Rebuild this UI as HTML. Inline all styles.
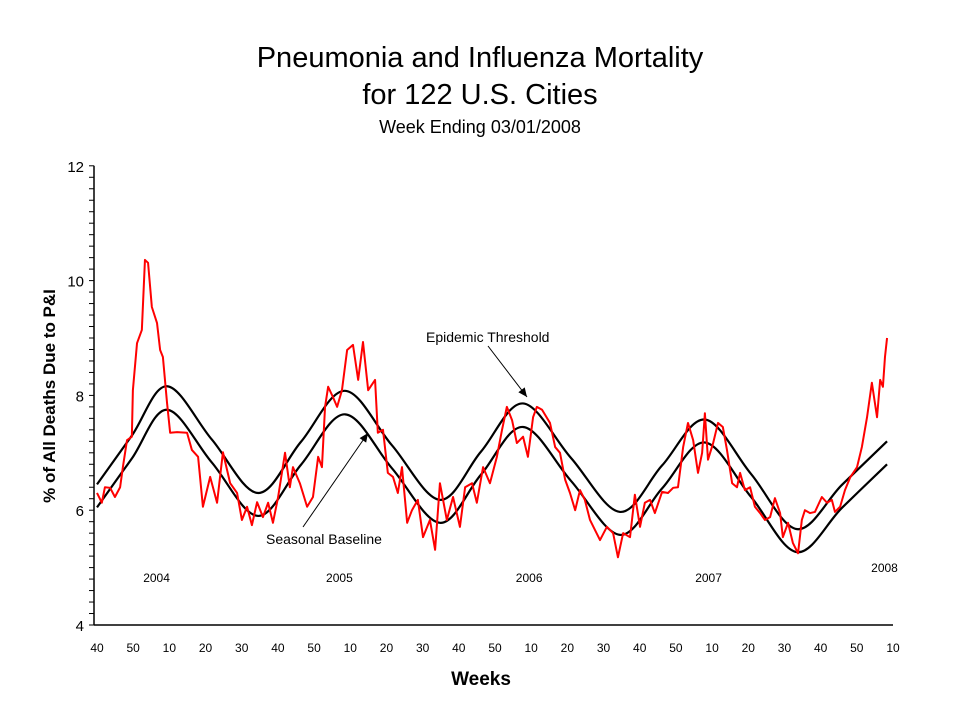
<!DOCTYPE html>
<html><head><meta charset="utf-8"><style>
body{margin:0;background:#fff;}
svg{display:block;font-family:"Liberation Sans",Arial,sans-serif;}
</style></head><body>
<svg id="chart" width="960" height="720" viewBox="0 0 960 720">
<text x="480" y="67" font-size="29" text-anchor="middle">Pneumonia and Influenza Mortality</text>
<text x="480" y="104" font-size="29" text-anchor="middle">for 122 U.S. Cities</text>
<text x="480" y="133" font-size="18" text-anchor="middle">Week Ending 03/01/2008</text>
<text transform="translate(55,396) rotate(-90)" font-size="17" font-weight="bold" text-anchor="middle">% of All Deaths Due to P&amp;I</text>
<text x="481" y="685" font-size="19" font-weight="bold" text-anchor="middle">Weeks</text>
<g id="axes"></g>
<g id="series"></g>
<text x="426" y="342" font-size="14">Epidemic Threshold</text>
<text x="266" y="544" font-size="14">Seasonal Baseline</text>
</svg>
<script>
const yTicks=[4,6,8,10,12];
const xTickLabels=["40","50","10","20","30","40","50","10","20","30","40","50","10","20","30","40","50","10","20","30","40","50","10"];
const yearLabels=["2004","2005","2006","2007","2008"];
const yearWeeks=[19,72,127,179,230];
const yearVals=[4.75,4.75,4.75,4.75,4.92];
const piWeeks=[0,1.4,2.3,3.8,5.2,6.7,7.5,8.7,10.1,10.4,11.6,13.0,13.9,14.8,15.9,17.4,18.3,19.1,20.3,21.2,23.2,26.1,27.5,29.3,30.7,32.8,34.8,36.5,38.6,40.6,42.0,43.5,44.9,46.4,48.1,49.6,51.0,52.5,54.5,55.9,56.8,58.8,60.9,62.6,64.1,65.2,66.1,67.0,68.4,69.6,71.0,72.5,74.2,75.7,77.1,78.6,80.6,81.4,82.9,84.3,85.8,87.2,88.4,89.9,91.3,93.0,94.5,96.5,98.0,99.4,101.4,103.2,105.2,106.7,108.7,110.1,111.9,113.9,115.9,117.4,118.8,120.3,121.7,123.5,124.9,126.4,127.5,129.0,131.3,132.8,134.2,135.7,137.1,138.6,140.0,141.4,142.9,144.3,145.8,147.8,149.6,151.0,152.5,154.5,155.9,157.4,158.8,160.3,161.7,163.8,165.5,167.0,168.4,169.9,171.3,172.8,174.2,175.4,176.2,177.1,178.6,180.0,181.4,182.6,184.1,185.5,186.4,187.8,189.3,190.7,192.2,193.6,195.1,196.5,198.0,198.8,200.3,201.7,203.2,204.3,205.2,206.7,208.1,210.1,211.6,213.0,213.9,215.4,216.8,218.3,220.3,221.7,223.2,224.6,226.1,227.0,227.8,228.4,229.0];
const piValues=[6.30,6.13,6.40,6.39,6.23,6.40,6.75,7.22,7.28,8.09,8.91,9.14,10.36,10.31,9.54,9.26,8.79,8.67,7.87,7.35,7.36,7.35,7.05,6.93,6.06,6.58,6.13,7.01,6.47,6.30,5.83,6.06,5.74,6.14,5.88,6.13,5.78,6.23,7.00,6.40,6.75,6.47,6.06,6.23,6.93,6.75,7.80,8.15,7.97,7.80,8.09,8.79,8.88,8.27,8.93,8.09,8.27,7.35,7.40,6.65,6.58,6.30,6.75,5.78,6.00,6.18,5.53,5.83,5.31,6.47,5.83,6.23,5.71,6.40,6.47,6.13,6.75,6.47,6.93,7.40,7.80,7.57,7.17,7.28,6.93,7.62,7.80,7.75,7.52,7.10,7.00,6.53,6.30,6.00,6.35,6.18,5.83,5.66,5.48,5.71,5.60,5.18,5.60,5.53,6.27,5.71,6.13,6.18,5.95,6.32,6.30,6.39,6.40,7.10,7.52,7.22,6.65,7.00,7.69,6.88,7.17,7.52,7.45,7.05,6.47,6.40,6.65,6.35,6.40,6.06,5.95,5.83,5.88,6.21,5.95,5.53,5.78,5.43,5.25,5.83,6.00,5.95,5.97,6.23,6.13,6.18,5.97,6.06,6.35,6.57,6.75,7.10,7.62,8.22,7.62,8.27,8.15,8.67,9.00];
const curveWeeks=[0,10.1,20.3,33.3,46.7,59.1,71.9,85.5,99.4,111.3,123.5,137.4,151.6,163.8,176.2,189.6,202.9,215.9,229];
const baselineValues=[6.05,6.9,7.75,6.83,5.9,6.79,7.67,6.73,5.78,6.62,7.45,6.51,5.57,6.38,7.18,6.23,5.27,6.04,6.8];
const thresholdValues=[6.45,7.3,8.16,7.23,6.3,7.19,8.08,7.13,6.18,7.02,7.86,6.91,5.97,6.78,7.58,6.63,5.67,6.44,7.2];

const NS="http://www.w3.org/2000/svg";
const X0=97,WPX=3.45,YB=625,YPX=57.4;
function sx(w){return X0+w*WPX;}
function sy(v){return YB-(v-4)*YPX;}
function mk(tag,attrs,parent){const e=document.createElementNS(NS,tag);for(const k in attrs)e.setAttribute(k,attrs[k]);parent.appendChild(e);return e;}
const axes=document.getElementById('axes'),series=document.getElementById('series');

const ya=mk('line',{x1:94,y1:sy(12),x2:94,y2:YB+0.5,stroke:'#000','stroke-width':1.5},axes);


const xa=mk('line',{x1:94,y1:YB,x2:893,y2:YB,stroke:'#000','stroke-width':1.5},axes);


for(let v=4;v<=12.001;v+=0.2){
  const t=mk('line',{x1:89,y1:sy(v),x2:94,y2:sy(v),stroke:'#000','stroke-width':1},axes);
  
  
}
yTicks.forEach(v=>{
  const t=mk('text',{x:84,y:sy(v)+6,'font-size':15,'text-anchor':'end'},axes);
  t.textContent=v;
  
  
});
const step=(893-97)/(xTickLabels.length-1);
xTickLabels.forEach((l,i)=>{
  const t=mk('text',{x:97+i*step,y:652,'font-size':12,'text-anchor':'middle'},axes);
  t.textContent=l;
  
  
});
yearLabels.forEach((l,i)=>{
  const t=mk('text',{x:sx(yearWeeks[i])-6,y:sy(yearVals[i]),'font-size':12,'text-anchor':'middle'},axes);
  t.textContent=l;
  
  
});

function smooth(ws,vs){
  const p=ws.map((w,i)=>[sx(w),sy(vs[i])]);
  let d='M'+p[0][0]+','+p[0][1];
  for(let i=0;i<p.length-1;i++){
    const a=p[Math.max(0,i-1)],b=p[i],c=p[i+1],e=p[Math.min(p.length-1,i+2)];
    d+=' C'+(b[0]+(c[0]-a[0])/6)+','+(b[1]+(c[1]-a[1])/6)+' '+(c[0]-(e[0]-b[0])/6)+','+(c[1]-(e[1]-b[1])/6)+' '+c[0]+','+c[1];
  }
  return d;
}
const th=mk('path',{d:smooth(curveWeeks,thresholdValues),fill:'none',stroke:'#000','stroke-width':2.2},series);


const bl=mk('path',{d:smooth(curveWeeks,baselineValues),fill:'none',stroke:'#000','stroke-width':2.2},series);


const pi=mk('polyline',{points:piWeeks.map((w,i)=>sx(w)+','+sy(piValues[i])).join(' '),fill:'none',stroke:'#f00','stroke-width':2,'stroke-linejoin':'round'},series);



function arrow(x1,y1,x2,y2,name){
  const g=mk('g',{},series);
  
  
  mk('line',{x1:x1,y1:y1,x2:x2,y2:y2,stroke:'#000','stroke-width':1},g);
  const a=Math.atan2(y2-y1,x2-x1),L=9,W=4;
  const bx=x2-L*Math.cos(a),by=y2-L*Math.sin(a);
  mk('polygon',{points:x2+','+y2+' '+(bx+W*Math.sin(a))+','+(by-W*Math.cos(a))+' '+(bx-W*Math.sin(a))+','+(by+W*Math.cos(a)),fill:'#000'},g);
}
arrow(488,346,527,397,'epidemic-threshold-arrow');
arrow(303,527,368,433,'seasonal-baseline-arrow');
</script>
</body></html>
